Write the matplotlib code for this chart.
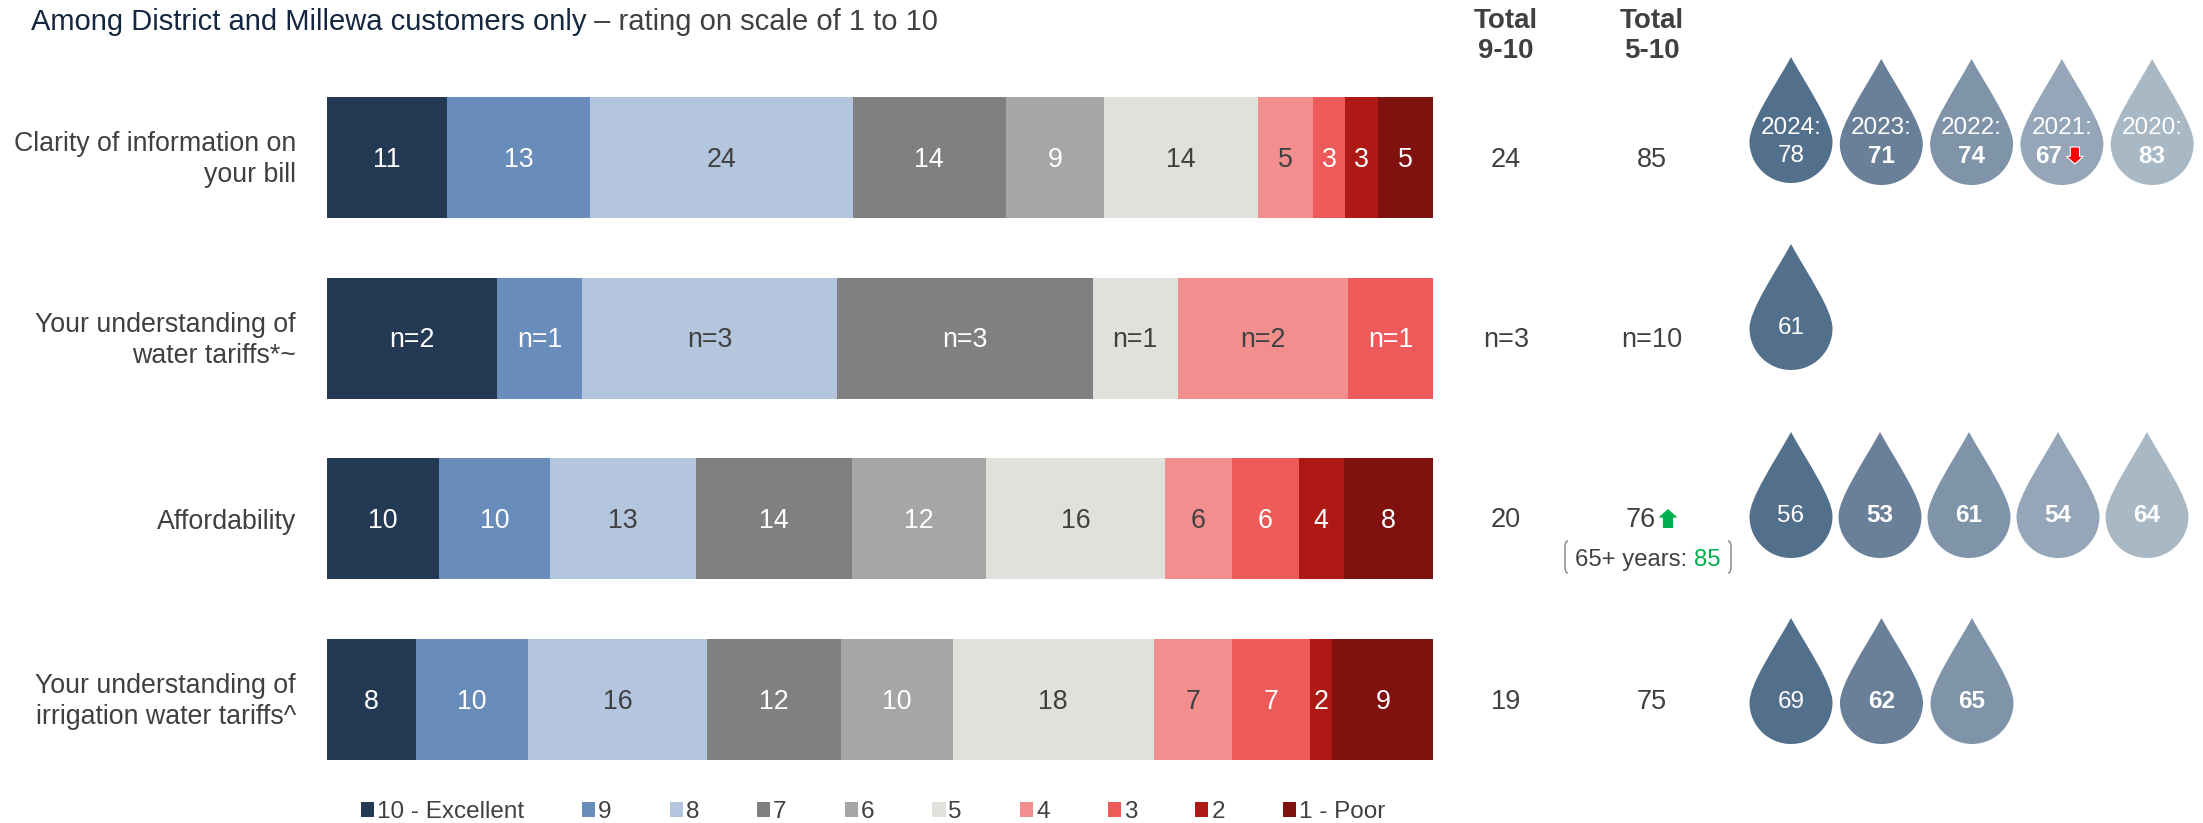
import numpy as np
import matplotlib
matplotlib.use('Agg')
import matplotlib.pyplot as plt
from matplotlib.patches import PathPatch, Patch, Polygon
from matplotlib.path import Path
from matplotlib.transforms import ScaledTranslation

plt.rcParams['font.family'] = ['Liberation Sans', 'DejaVu Sans']

WIDTH, HEIGHT = 2203, 823

categories = ['Clarity of information on\nyour bill',
              'Your understanding of\nwater tariffs*~',
              'Affordability',
              'Your understanding of\nirrigation water tariffs^']
ratings = ['10 - Excellent', '9', '8', '7', '6', '5', '4', '3', '2', '1 - Poor']
clarity = [11, 13, 24, 14, 9, 14, 5, 3, 3, 5]
tariffs = [2, 1, 3, 3, 0, 1, 2, 1, 0, 0]
affordability = [10, 10, 13, 14, 12, 16, 6, 6, 4, 8]
irrigation = [8, 10, 16, 12, 10, 18, 7, 7, 2, 9]
rows = [clarity, tariffs, affordability, irrigation]

total_9_10 = ['24', 'n=3', '20', '19']
total_5_10 = ['85', 'n=10', '76', '75']

years = ['2024', '2023', '2022', '2021', '2020']
drop_scores = [[78, 71, 74, 67, 83], [61], [56, 53, 61, 54, 64], [69, 62, 65]]

rating_colors = ['#243A54', '#688DBA', '#B3C6DE', '#808080', '#A6A6A6',
                 '#E0E1DB', '#F28F8E', '#EC5B5A', '#AE1916', '#7F110E']
dark_labels = {2, 5, 6}
drop_colors = ['#526F8B', '#6A8098', '#7F94A9', '#94A6B7', '#A8B8C5']
TEXT = '#404040'
TITLE = '#14273F'
GREEN = '#00B050'

fig = plt.figure(figsize=(WIDTH / 100, HEIGHT / 100), dpi=100)

# stacked bars, every row scaled to its own total
ax = fig.add_axes([327 / WIDTH, (823 - 760) / HEIGHT, 1106 / WIDTH, 663 / HEIGHT])
y = np.arange(len(rows))
data = np.array(rows, dtype=float)
totals = data.sum(axis=1)
left = np.zeros(len(rows))
for j, color in enumerate(rating_colors):
    share = data[:, j] / totals
    ax.barh(y, share, left=left, height=0.67, color=color, linewidth=0)
    for i in range(len(rows)):
        if data[i, j] == 0:
            continue
        label = f'{int(data[i, j])}' if i != 1 else f'n={int(data[i, j])}'
        ax.annotate(label, (left[i] + share[i] / 2, y[i]), xytext=(0, -1.5), textcoords='offset points',
                    ha='center', va='center', fontsize=19.3,
                    color=TEXT if j in dark_labels else 'white')
    left += share
ax.set_xlim(0, 1)
ax.set_ylim(3.335, -0.335)
ax.set_xticks([])
ax.set_yticks(y)
ax.set_yticklabels(categories, fontsize=19.3, color=TEXT, linespacing=1.25)
ax.tick_params(axis='y', length=0, pad=22.5)
# two-line labels sit a little high of the bar centre
for tick_label in ax.get_yticklabels():
    if '\n' in tick_label.get_text():
        tick_label.set_transform(tick_label.get_transform()
                                 + ScaledTranslation(0, 3.5 / 100, fig.dpi_scale_trans))
for spine in ax.spines.values():
    spine.set_visible(False)

# everything else is laid out in figure pixels
over = fig.add_axes([0, 0, 1, 1])
over.set_xlim(0, WIDTH)
over.set_ylim(HEIGHT, 0)
over.axis('off')

title = over.text(31, 22, 'Among District and Millewa customers only', fontsize=21,
                  color=TITLE, va='center')
over.annotate(' – rating on scale of 1 to 10', xy=(1, 0.5), xycoords=title, fontsize=21,
              color=TEXT, va='center')

COL_A, COL_B = 1506, 1652
row_mid = [160, 340, 520, 702]
for x, head in ((COL_A, 'Total\n9-10'), (COL_B, 'Total\n5-10')):
    over.text(x, 36, head, fontsize=20, fontweight='bold', color=TEXT, ha='center',
              va='center', linespacing=1.23)
for i, mid in enumerate(row_mid):
    over.text(COL_A, mid, total_9_10[i], fontsize=19.5, color=TEXT, ha='center', va='center')
    x_b = 1641 if i == 2 else COL_B
    over.text(x_b, mid, total_5_10[i], fontsize=19.5, color=TEXT, ha='center', va='center')


def arrow(cx, top, bottom, width, color, edge='none'):
    shaft = width * 0.27
    if bottom > top:
        head = bottom - (bottom - top) * 0.45
    else:
        head = bottom + (top - bottom) * 0.45
    over.add_patch(Polygon([(cx - shaft, top), (cx + shaft, top), (cx + shaft, head),
                            (cx + width / 2, head), (cx, bottom), (cx - width / 2, head),
                            (cx - shaft, head)], closed=True, facecolor=color,
                           edgecolor=edge, linewidth=0.8))


def bracket(x, top, bottom, direction):
    curl = 3 * direction
    verts = [(x + curl, top), (x, top), (x, top + 6), (x, bottom - 6), (x, bottom), (x + curl, bottom)]
    codes = [Path.MOVETO, Path.CURVE3, Path.CURVE3, Path.LINETO, Path.CURVE3, Path.CURVE3]
    over.add_patch(PathPatch(Path(verts, codes), facecolor='none', edgecolor='#808080', linewidth=1))


# significance marker and sub-group callout on the affordability row
arrow(1668, 528, 509, 19, GREEN)
sub = over.text(1575, 560, '65+ years: ', fontsize=17.2, color=TEXT, va='center')
over.annotate('85', xy=(1, 0.5), xycoords=sub, fontsize=17.2, color=GREEN, va='center')
bracket(1565, 541, 573, 1)
bracket(1731, 541, 573, -1)


def drop_path(cx, top, w=83, h=126):
    r = w / 2
    k = 0.5523 * r
    c = h - r
    verts = [(0, 0),
             (r * 0.40, h * 0.24), (r, h * 0.52), (r, c),
             (r, c + k), (k, h), (0, h),
             (-k, h), (-r, c + k), (-r, c),
             (-r, h * 0.52), (-r * 0.40, h * 0.24), (0, 0)]
    codes = [Path.MOVETO] + [Path.CURVE4] * 12
    return Path(np.array(verts) + [cx, top], codes)


drop_tops = [59, 244, 432, 618]
drop_steps = [90.3, 90, 89, 90.5]
for i, scores in enumerate(drop_scores):
    for j, score in enumerate(scores):
        cx = 1791 + j * drop_steps[i]
        top = drop_tops[i]
        tip = top - (2 if i == 0 and j == 0 else 0)
        over.add_patch(PathPatch(drop_path(cx, tip), facecolor=drop_colors[j], edgecolor='none'))
        weight = 'bold' if j > 0 else 'normal'
        if i == 0:
            over.text(cx, top + 69, years[j] + ':', fontsize=17.5, color='white', ha='center', va='center')
            val_y = top + 97
            x_val = cx - 13 if years[j] == '2021' else cx
        else:
            val_y = top + 84
            x_val = cx
        over.text(x_val, val_y, str(score), fontsize=17.5, color='white', ha='center', va='center',
                  fontweight=weight)

# the 2021 score on the first row fell significantly
arrow(1791 + 3 * drop_steps[0] + 13, 147, 164, 17, '#FF0000', edge='white')

handles = [Patch(facecolor=c, edgecolor='none') for c in rating_colors]
fig.legend(handles, ratings, ncol=10, loc='center', bbox_to_anchor=(873 / WIDTH, 1 - 812 / HEIGHT),
           frameon=False, fontsize=17.5, labelcolor=TEXT, handlelength=0.54, handleheight=0.54,
           handletextpad=0.12, columnspacing=2.39, borderpad=0)

fig.savefig('out.png', dpi=100)
